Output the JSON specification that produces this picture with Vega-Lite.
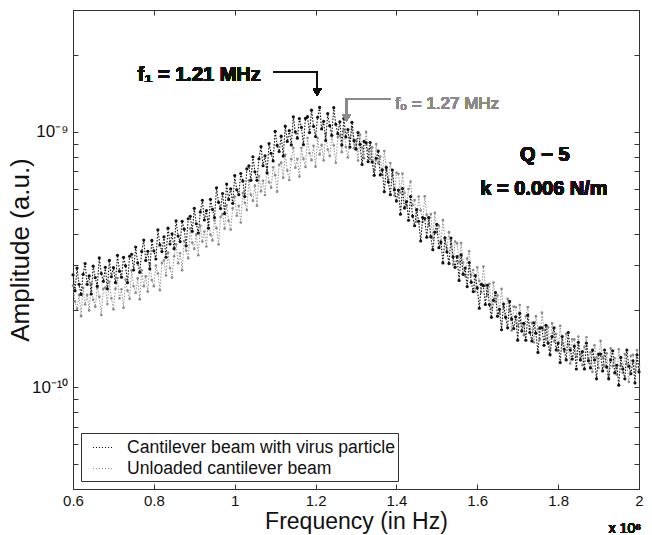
{
"$schema":"https://vega.github.io/schema/vega-lite/v6.json",
"width":566,"height":479,
"autosize":{"type":"none"},
"padding":{"left":73,"top":10,"right":13,"bottom":46},
"background":"white",
"config":{"font":"Liberation Sans","view":{"stroke":"#333","strokeWidth":1}},
"data":{"values":[
{"f":0.600,"w":2.76e-10,"u":2.50e-10},{"f":0.605,"w":2.39e-10,"u":2.17e-10},{"f":0.610,"w":2.93e-10,"u":2.03e-10},{"f":0.615,"w":2.53e-10,"u":2.30e-10},{"f":0.620,"w":2.31e-10,"u":1.90e-10},
{"f":0.625,"w":2.77e-10,"u":2.45e-10},{"f":0.630,"w":3.05e-10,"u":2.11e-10},{"f":0.635,"w":2.53e-10,"u":2.30e-10},{"f":0.640,"w":2.73e-10,"u":2.00e-10},{"f":0.645,"w":2.32e-10,"u":2.54e-10},
{"f":0.650,"w":2.98e-10,"u":2.20e-10},{"f":0.655,"w":2.69e-10,"u":2.07e-10},{"f":0.660,"w":2.49e-10,"u":2.45e-10},{"f":0.665,"w":3.21e-10,"u":2.26e-10},{"f":0.670,"w":2.79e-10,"u":1.92e-10},
{"f":0.675,"w":2.60e-10,"u":2.43e-10},{"f":0.680,"w":2.95e-10,"u":2.46e-10},{"f":0.685,"w":2.43e-10,"u":2.12e-10},{"f":0.690,"w":3.14e-10,"u":2.59e-10},{"f":0.695,"w":2.71e-10,"u":2.23e-10},
{"f":0.700,"w":2.94e-10,"u":2.02e-10},{"f":0.705,"w":2.57e-10,"u":2.43e-10},{"f":0.710,"w":3.29e-10,"u":2.68e-10},{"f":0.715,"w":2.85e-10,"u":2.23e-10},{"f":0.720,"w":2.70e-10,"u":2.42e-10},
{"f":0.725,"w":3.23e-10,"u":2.05e-10},{"f":0.730,"w":2.99e-10,"u":2.64e-10},{"f":0.735,"w":2.57e-10,"u":2.39e-10},{"f":0.740,"w":3.26e-10,"u":2.22e-10},{"f":0.745,"w":3.32e-10,"u":2.87e-10},
{"f":0.750,"w":2.88e-10,"u":2.49e-10},{"f":0.755,"w":3.54e-10,"u":2.34e-10},{"f":0.760,"w":3.07e-10,"u":2.67e-10},{"f":0.765,"w":2.82e-10,"u":2.21e-10},{"f":0.770,"w":3.40e-10,"u":2.87e-10},
{"f":0.775,"w":3.77e-10,"u":2.49e-10},{"f":0.780,"w":3.14e-10,"u":2.72e-10},{"f":0.785,"w":3.41e-10,"u":2.37e-10},{"f":0.790,"w":2.91e-10,"u":3.03e-10},{"f":0.795,"w":3.76e-10,"u":2.63e-10},
{"f":0.800,"w":3.42e-10,"u":2.49e-10},{"f":0.805,"w":3.18e-10,"u":3.00e-10},{"f":0.810,"w":4.14e-10,"u":2.79e-10},{"f":0.815,"w":3.61e-10,"u":2.40e-10},{"f":0.820,"w":3.40e-10,"u":3.07e-10},
{"f":0.825,"w":3.88e-10,"u":3.14e-10},{"f":0.830,"w":3.23e-10,"u":2.74e-10},{"f":0.835,"w":4.20e-10,"u":3.37e-10},{"f":0.840,"w":3.64e-10,"u":2.93e-10},{"f":0.845,"w":3.99e-10,"u":2.69e-10},
{"f":0.850,"w":3.49e-10,"u":3.26e-10},{"f":0.855,"w":4.49e-10,"u":3.63e-10},{"f":0.860,"w":3.91e-10,"u":3.06e-10},{"f":0.865,"w":3.72e-10,"u":3.35e-10},{"f":0.870,"w":4.47e-10,"u":2.87e-10},
{"f":0.875,"w":4.16e-10,"u":3.74e-10},{"f":0.880,"w":3.58e-10,"u":3.43e-10},{"f":0.885,"w":4.57e-10,"u":3.20e-10},{"f":0.890,"w":4.67e-10,"u":4.19e-10},{"f":0.895,"w":4.08e-10,"u":3.68e-10},
{"f":0.900,"w":5.02e-10,"u":3.48e-10},{"f":0.905,"w":4.37e-10,"u":3.97e-10},{"f":0.910,"w":4.02e-10,"u":3.29e-10},{"f":0.915,"w":4.86e-10,"u":4.29e-10},{"f":0.920,"w":5.40e-10,"u":3.72e-10},
{"f":0.925,"w":4.52e-10,"u":4.07e-10},{"f":0.930,"w":4.92e-10,"u":3.56e-10},{"f":0.935,"w":4.20e-10,"u":4.56e-10},{"f":0.940,"w":5.45e-10,"u":3.96e-10},{"f":0.945,"w":4.97e-10,"u":3.76e-10},
{"f":0.950,"w":4.62e-10,"u":4.50e-10},{"f":0.955,"w":6.04e-10,"u":4.20e-10},{"f":0.960,"w":5.30e-10,"u":3.63e-10},{"f":0.965,"w":5.01e-10,"u":4.65e-10},{"f":0.970,"w":5.74e-10,"u":4.77e-10},
{"f":0.975,"w":4.79e-10,"u":4.18e-10},{"f":0.980,"w":6.25e-10,"u":5.16e-10},{"f":0.985,"w":5.44e-10,"u":4.49e-10},{"f":0.990,"w":5.98e-10,"u":4.14e-10},{"f":0.995,"w":5.25e-10,"u":5.02e-10},
{"f":1.000,"w":6.75e-10,"u":5.58e-10},{"f":1.005,"w":5.93e-10,"u":4.70e-10},{"f":1.010,"w":5.68e-10,"u":5.14e-10},{"f":1.015,"w":6.87e-10,"u":4.42e-10},{"f":1.020,"w":6.43e-10,"u":5.76e-10},
{"f":1.025,"w":5.58e-10,"u":5.28e-10},{"f":1.030,"w":7.16e-10,"u":4.94e-10},{"f":1.035,"w":7.36e-10,"u":6.46e-10},{"f":1.040,"w":6.46e-10,"u":5.67e-10},{"f":1.045,"w":7.99e-10,"u":5.37e-10},
{"f":1.050,"w":6.98e-10,"u":6.16e-10},{"f":1.055,"w":6.46e-10,"u":5.14e-10},{"f":1.060,"w":7.85e-10,"u":6.72e-10},{"f":1.065,"w":8.76e-10,"u":5.85e-10},{"f":1.070,"w":7.37e-10,"u":6.44e-10},
{"f":1.075,"w":8.06e-10,"u":5.66e-10},{"f":1.080,"w":6.91e-10,"u":7.28e-10},{"f":1.085,"w":9.00e-10,"u":6.35e-10},{"f":1.090,"w":8.24e-10,"u":6.05e-10},{"f":1.095,"w":7.70e-10,"u":7.27e-10},
{"f":1.100,"w":10.06e-10,"u":6.77e-10},{"f":1.105,"w":8.85e-10,"u":5.83e-10},{"f":1.110,"w":8.38e-10,"u":7.43e-10},{"f":1.115,"w":9.62e-10,"u":7.59e-10},{"f":1.120,"w":8.04e-10,"u":6.61e-10},
{"f":1.125,"w":10.53e-10,"u":8.13e-10},{"f":1.130,"w":9.18e-10,"u":7.06e-10},{"f":1.135,"w":10.11e-10,"u":6.48e-10},{"f":1.140,"w":8.89e-10,"u":7.82e-10},{"f":1.145,"w":11.45e-10,"u":8.67e-10},
{"f":1.150,"w":10.00e-10,"u":7.24e-10},{"f":1.155,"w":9.45e-10,"u":7.85e-10},{"f":1.160,"w":11.27e-10,"u":6.69e-10},{"f":1.165,"w":10.41e-10,"u":8.64e-10},{"f":1.170,"w":8.91e-10,"u":7.85e-10},
{"f":1.175,"w":11.29e-10,"u":7.29e-10},{"f":1.180,"w":11.47e-10,"u":9.46e-10},{"f":1.185,"w":9.94e-10,"u":8.25e-10},{"f":1.190,"w":12.16e-10,"u":7.75e-10},{"f":1.195,"w":10.51e-10,"u":8.82e-10},
{"f":1.200,"w":9.59e-10,"u":7.31e-10},{"f":1.205,"w":11.41e-10,"u":9.46e-10},{"f":1.210,"w":12.47e-10,"u":8.16e-10},{"f":1.215,"w":10.27e-10,"u":8.89e-10},{"f":1.220,"w":11.00e-10,"u":7.74e-10},
{"f":1.225,"w":9.25e-10,"u":9.86e-10},{"f":1.230,"w":11.79e-10,"u":8.53e-10},{"f":1.235,"w":10.58e-10,"u":8.05e-10},{"f":1.240,"w":9.70e-10,"u":9.59e-10},{"f":1.245,"w":12.44e-10,"u":8.85e-10},
{"f":1.250,"w":10.71e-10,"u":7.57e-10},{"f":1.255,"w":9.84e-10,"u":9.54e-10},{"f":1.260,"w":10.96e-10,"u":9.66e-10},{"f":1.265,"w":8.88e-10,"u":8.33e-10},{"f":1.270,"w":11.29e-10,"u":10.15e-10},
{"f":1.275,"w":9.55e-10,"u":8.73e-10},{"f":1.280,"w":10.21e-10,"u":7.94e-10},{"f":1.285,"w":8.72e-10,"u":9.49e-10},{"f":1.290,"w":10.90e-10,"u":10.42e-10},{"f":1.295,"w":9.24e-10,"u":8.63e-10},
{"f":1.300,"w":8.56e-10,"u":9.28e-10},{"f":1.305,"w":9.94e-10,"u":7.73e-10},{"f":1.310,"w":8.94e-10,"u":9.77e-10},{"f":1.315,"w":7.45e-10,"u":8.68e-10},{"f":1.320,"w":9.18e-10,"u":7.88e-10},
{"f":1.325,"w":9.07e-10,"u":10.00e-10},{"f":1.330,"w":7.64e-10,"u":8.52e-10},{"f":1.335,"w":9.09e-10,"u":7.83e-10},{"f":1.340,"w":7.62e-10,"u":8.71e-10},{"f":1.345,"w":6.76e-10,"u":7.06e-10},
{"f":1.350,"w":7.88e-10,"u":8.96e-10},{"f":1.355,"w":8.42e-10,"u":7.53e-10},{"f":1.360,"w":6.78e-10,"u":8.00e-10},{"f":1.365,"w":7.10e-10,"u":6.79e-10},{"f":1.370,"w":5.83e-10,"u":8.42e-10},
{"f":1.375,"w":7.26e-10,"u":7.09e-10},{"f":1.380,"w":6.36e-10,"u":6.52e-10},{"f":1.385,"w":5.68e-10,"u":7.55e-10},{"f":1.390,"w":7.09e-10,"u":6.78e-10},{"f":1.395,"w":5.94e-10,"u":5.63e-10},
{"f":1.400,"w":5.36e-10,"u":6.92e-10},{"f":1.405,"w":5.92e-10,"u":6.85e-10},{"f":1.410,"w":4.76e-10,"u":5.78e-10},{"f":1.415,"w":6.00e-10,"u":6.87e-10},{"f":1.420,"w":5.03e-10,"u":5.77e-10},
{"f":1.425,"w":5.33e-10,"u":5.12e-10},{"f":1.430,"w":4.51e-10,"u":5.97e-10},{"f":1.435,"w":5.58e-10,"u":6.39e-10},{"f":1.440,"w":4.68e-10,"u":5.16e-10},{"f":1.445,"w":4.29e-10,"u":5.41e-10},
{"f":1.450,"w":4.96e-10,"u":4.45e-10},{"f":1.455,"w":4.47e-10,"u":5.58e-10},{"f":1.460,"w":3.74e-10,"u":4.93e-10},{"f":1.465,"w":4.62e-10,"u":4.44e-10},{"f":1.470,"w":4.58e-10,"u":5.60e-10},
{"f":1.475,"w":3.87e-10,"u":4.74e-10},{"f":1.480,"w":4.62e-10,"u":4.32e-10},{"f":1.485,"w":3.89e-10,"u":4.77e-10},{"f":1.490,"w":3.46e-10,"u":3.83e-10},{"f":1.495,"w":4.05e-10,"u":4.82e-10},
{"f":1.500,"w":4.35e-10,"u":4.04e-10},{"f":1.505,"w":3.52e-10,"u":4.29e-10},{"f":1.510,"w":3.71e-10,"u":3.64e-10},{"f":1.515,"w":3.07e-10,"u":4.52e-10},{"f":1.520,"w":3.85e-10,"u":3.80e-10},
{"f":1.525,"w":3.39e-10,"u":3.50e-10},{"f":1.530,"w":3.05e-10,"u":4.05e-10},{"f":1.535,"w":3.84e-10,"u":3.64e-10},{"f":1.540,"w":3.24e-10,"u":3.02e-10},{"f":1.545,"w":2.95e-10,"u":3.72e-10},
{"f":1.550,"w":3.25e-10,"u":3.66e-10},{"f":1.555,"w":2.62e-10,"u":3.09e-10},{"f":1.560,"w":3.30e-10,"u":3.67e-10},{"f":1.565,"w":2.77e-10,"u":3.08e-10},{"f":1.570,"w":2.93e-10,"u":2.73e-10},
{"f":1.575,"w":2.48e-10,"u":3.19e-10},{"f":1.580,"w":3.08e-10,"u":3.41e-10},{"f":1.585,"w":2.58e-10,"u":2.75e-10},{"f":1.590,"w":2.37e-10,"u":2.88e-10},{"f":1.595,"w":2.74e-10,"u":2.37e-10},
{"f":1.600,"w":2.45e-10,"u":2.95e-10},{"f":1.605,"w":2.04e-10,"u":2.61e-10},{"f":1.610,"w":2.53e-10,"u":2.35e-10},{"f":1.615,"w":2.50e-10,"u":2.97e-10},{"f":1.620,"w":2.11e-10,"u":2.51e-10},
{"f":1.625,"w":2.51e-10,"u":2.29e-10},{"f":1.630,"w":2.11e-10,"u":2.54e-10},{"f":1.635,"w":1.88e-10,"u":2.04e-10},{"f":1.640,"w":2.19e-10,"u":2.57e-10},{"f":1.645,"w":2.35e-10,"u":2.16e-10},
{"f":1.650,"w":1.90e-10,"u":2.29e-10},{"f":1.655,"w":2.02e-10,"u":1.95e-10},{"f":1.660,"w":1.68e-10,"u":2.43e-10},{"f":1.665,"w":2.12e-10,"u":2.06e-10},{"f":1.670,"w":1.88e-10,"u":1.90e-10},
{"f":1.675,"w":1.71e-10,"u":2.22e-10},{"f":1.680,"w":2.17e-10,"u":2.00e-10},{"f":1.685,"w":1.85e-10,"u":1.67e-10},{"f":1.690,"w":1.70e-10,"u":2.07e-10},{"f":1.695,"w":1.89e-10,"u":2.06e-10},
{"f":1.700,"w":1.53e-10,"u":1.74e-10},{"f":1.705,"w":1.95e-10,"u":2.10e-10},{"f":1.710,"w":1.66e-10,"u":1.78e-10},{"f":1.715,"w":1.78e-10,"u":1.60e-10},{"f":1.720,"w":1.53e-10,"u":1.90e-10},
{"f":1.725,"w":1.92e-10,"u":2.06e-10},{"f":1.730,"w":1.64e-10,"u":1.69e-10},{"f":1.735,"w":1.52e-10,"u":1.79e-10},{"f":1.740,"w":1.79e-10,"u":1.50e-10},{"f":1.745,"w":1.63e-10,"u":1.90e-10},
{"f":1.750,"w":1.37e-10,"u":1.69e-10},{"f":1.755,"w":1.71e-10,"u":1.54e-10},{"f":1.760,"w":1.71e-10,"u":1.96e-10},{"f":1.765,"w":1.46e-10,"u":1.68e-10},{"f":1.770,"w":1.75e-10,"u":1.54e-10},
{"f":1.775,"w":1.49e-10,"u":1.72e-10},{"f":1.780,"w":1.34e-10,"u":1.40e-10},{"f":1.785,"w":1.58e-10,"u":1.78e-10},{"f":1.790,"w":1.71e-10,"u":1.51e-10},{"f":1.795,"w":1.40e-10,"u":1.62e-10},
{"f":1.800,"w":1.49e-10,"u":1.39e-10},{"f":1.805,"w":1.25e-10,"u":1.74e-10},{"f":1.810,"w":1.58e-10,"u":1.48e-10},{"f":1.815,"w":1.41e-10,"u":1.38e-10},{"f":1.820,"w":1.28e-10,"u":1.62e-10},
{"f":1.825,"w":1.64e-10,"u":1.47e-10},{"f":1.830,"w":1.40e-10,"u":1.24e-10},{"f":1.835,"w":1.29e-10,"u":1.54e-10},{"f":1.840,"w":1.45e-10,"u":1.54e-10},{"f":1.845,"w":1.18e-10,"u":1.32e-10},
{"f":1.850,"w":1.50e-10,"u":1.58e-10},{"f":1.855,"w":1.28e-10,"u":1.35e-10},{"f":1.860,"w":1.38e-10,"u":1.22e-10},{"f":1.865,"w":1.18e-10,"u":1.44e-10},{"f":1.870,"w":1.49e-10,"u":1.57e-10},
{"f":1.875,"w":1.27e-10,"u":1.29e-10},{"f":1.880,"w":1.19e-10,"u":1.37e-10},{"f":1.885,"w":1.40e-10,"u":1.15e-10},{"f":1.890,"w":1.28e-10,"u":1.46e-10},{"f":1.895,"w":1.08e-10,"u":1.31e-10},
{"f":1.900,"w":1.35e-10,"u":1.19e-10},{"f":1.905,"w":1.35e-10,"u":1.52e-10},{"f":1.910,"w":1.16e-10,"u":1.31e-10},{"f":1.915,"w":1.40e-10,"u":1.21e-10},{"f":1.920,"w":1.20e-10,"u":1.36e-10},
{"f":1.925,"w":1.08e-10,"u":1.11e-10},{"f":1.930,"w":1.28e-10,"u":1.42e-10},{"f":1.935,"w":1.39e-10,"u":1.21e-10},{"f":1.940,"w":1.14e-10,"u":1.30e-10},{"f":1.945,"w":1.22e-10,"u":1.12e-10},
{"f":1.950,"w":1.02e-10,"u":1.41e-10},{"f":1.955,"w":1.31e-10,"u":1.22e-10},{"f":1.960,"w":1.18e-10,"u":1.14e-10},{"f":1.965,"w":1.08e-10,"u":1.35e-10},{"f":1.970,"w":1.40e-10,"u":1.24e-10},
{"f":1.975,"w":1.21e-10,"u":1.05e-10},{"f":1.980,"w":1.13e-10,"u":1.33e-10},{"f":1.985,"w":1.27e-10,"u":1.34e-10},{"f":1.990,"w":1.04e-10,"u":1.15e-10},{"f":1.995,"w":1.34e-10,"u":1.40e-10},
{"f":2.000,"w":1.15e-10,"u":1.20e-10}
]},
"resolve":{"axis":{"x":"independent","y":"independent"}},
"layer":[
{"mark":{"type":"line","strokeWidth":0.9,"strokeDash":[1.5,1.5]},
 "encoding":{
  "x":{"field":"f","type":"quantitative","scale":{"domain":[0.6,2],"nice":false},
   "axis":{"values":[0.6,0.8,1,1.2,1.4,1.6,1.8,2],"format":"~g","title":"Frequency (in Hz)","titleFontSize":23,"titleFontWeight":"normal","titleColor":"#111","titlePadding":2,"labelFontSize":15,"labelColor":"#111","labelFlush":false,"labelOverlap":false,"tickSize":-5,"tickColor":"#333","domainColor":"#333","grid":false,"labelPadding":9}},
  "y":{"field":"u","type":"quantitative","scale":{"type":"log","domain":[4e-11,3e-9],"nice":false},
   "axis":{"values":[5e-11,6e-11,7e-11,8e-11,9e-11,1e-10,2e-10,3e-10,4e-10,5e-10,6e-10,7e-10,8e-10,9e-10,1e-9,2e-9,3e-9],"labelExpr":"datum.value == 1e-9 ? '10⁻⁹' : (datum.value == 1e-10 ? '10⁻¹⁰' : '')","title":"Amplitude (a.u.)","titleFontSize":26,"titleFontWeight":"normal","titleColor":"#111","titlePadding":-2,"labelFontSize":17,"labelColor":"#111","labelOverlap":false,"tickSize":-5,"tickColor":"#333","domainColor":"#333","grid":false,"labelPadding":10}},
  "color":{"datum":"Unloaded cantilever beam","scale":{"domain":["Cantilever beam with virus particle","Unloaded cantilever beam"],"range":["#111111","#8a8a8a"]},
   "legend":{"title":null,"orient":"bottom-left","offset":8,"strokeColor":"#333","fillColor":"white","padding":3,"labelFontSize":17.6,"labelLimit":500,"labelColor":"#111","symbolType":"stroke","symbolSize":441,"symbolDash":[1,2],"symbolStrokeWidth":1.2,"labelOffset":12,"rowPadding":0,"symbolOffset":8}}}},
{"mark":{"type":"point","filled":true,"size":7,"color":"#8a8a8a","opacity":1},
 "encoding":{"x":{"field":"f","type":"quantitative","axis":null},"y":{"field":"u","type":"quantitative","axis":null}}},
{"mark":{"type":"line","strokeWidth":1.1,"strokeDash":[1.5,1.5]},
 "encoding":{"x":{"field":"f","type":"quantitative","axis":null},"y":{"field":"w","type":"quantitative","axis":null},
  "color":{"datum":"Cantilever beam with virus particle"}}},
{"mark":{"type":"point","filled":true,"size":10,"color":"#111111","opacity":1},
 "encoding":{"x":{"field":"f","type":"quantitative","axis":null},"y":{"field":"w","type":"quantitative","axis":null}}},
{"mark":{"type":"point","opacity":0},
 "encoding":{"x":{"field":"f","type":"quantitative","axis":{"orient":"top","values":[0.6,0.8,1,1.2,1.4,1.6,1.8,2],"labels":false,"title":null,"tickSize":-5,"tickColor":"#333","domainColor":"#333","grid":false}},
  "y":{"field":"w","type":"quantitative","axis":{"orient":"right","values":[5e-11,6e-11,7e-11,8e-11,9e-11,1e-10,2e-10,3e-10,4e-10,5e-10,6e-10,7e-10,8e-10,9e-10,1e-9,2e-9,3e-9],"labels":false,"title":null,"tickSize":-5,"tickColor":"#333","domainColor":"#333","grid":false}}}},
{"mark":{"type":"rule","color":"#111","strokeWidth":1.5},
 "encoding":{"x":{"datum":1.095,"axis":null},"x2":{"datum":1.204},"y":{"datum":1.711e-9,"axis":null}}},
{"mark":{"type":"rule","color":"#111","strokeWidth":1.5},
 "encoding":{"x":{"datum":1.204,"axis":null},"y":{"datum":1.711e-9,"axis":null},"y2":{"datum":1.455e-9}}},
{"mark":{"type":"point","shape":"triangle-down","filled":true,"size":70,"color":"#111","opacity":1},
 "encoding":{"x":{"datum":1.204,"axis":null},"y":{"datum":1.429e-9,"axis":null}}},
{"mark":{"type":"rule","color":"#8a8a8a","strokeWidth":1.5},
 "encoding":{"x":{"datum":1.2765,"axis":null},"x2":{"datum":1.385},"y":{"datum":1.347e-9,"axis":null}}},
{"mark":{"type":"rule","color":"#8a8a8a","strokeWidth":1.5},
 "encoding":{"x":{"datum":1.2765,"axis":null},"y":{"datum":1.347e-9,"axis":null},"y2":{"datum":1.162e-9}}},
{"mark":{"type":"point","shape":"triangle-down","filled":true,"size":70,"color":"#8a8a8a","opacity":1},
 "encoding":{"x":{"datum":1.2765,"axis":null},"y":{"datum":1.131e-9,"axis":null}}},
{"mark":{"type":"text","text":"f₁ = 1.21 MHz","fontWeight":"bold","fontSize":20,"color":"#111","align":"center","baseline":"middle"},
 "encoding":{"x":{"datum":0.912,"axis":null},"y":{"datum":1.672e-9,"axis":null}}},
{"mark":{"type":"text","text":"f₀ = 1.27 MHz","fontSize":17,"color":"#8a8a8a","align":"left","baseline":"middle"},
 "encoding":{"x":{"datum":1.397,"axis":null},"y":{"datum":1.283e-9,"axis":null}}},
{"mark":{"type":"text","text":"Q ~ 5","fontWeight":"bold","fontSize":20,"color":"#111","align":"center","baseline":"middle"},
 "encoding":{"x":{"datum":1.767,"axis":null},"y":{"datum":8.11e-10,"axis":null}}},
{"mark":{"type":"text","text":"k = 0.006 N/m","fontWeight":"bold","fontSize":20,"color":"#111","align":"center","baseline":"middle"},
 "encoding":{"x":{"datum":1.765,"axis":null},"y":{"datum":5.96e-10,"axis":null}}},
{"mark":{"type":"text","text":"x 10⁶","fontSize":14,"color":"#111","align":"right","baseline":"alphabetic","dy":44,"dx":2},
 "encoding":{"x":{"datum":2,"axis":null},"y":{"datum":4e-11,"axis":null}}}
]
}
